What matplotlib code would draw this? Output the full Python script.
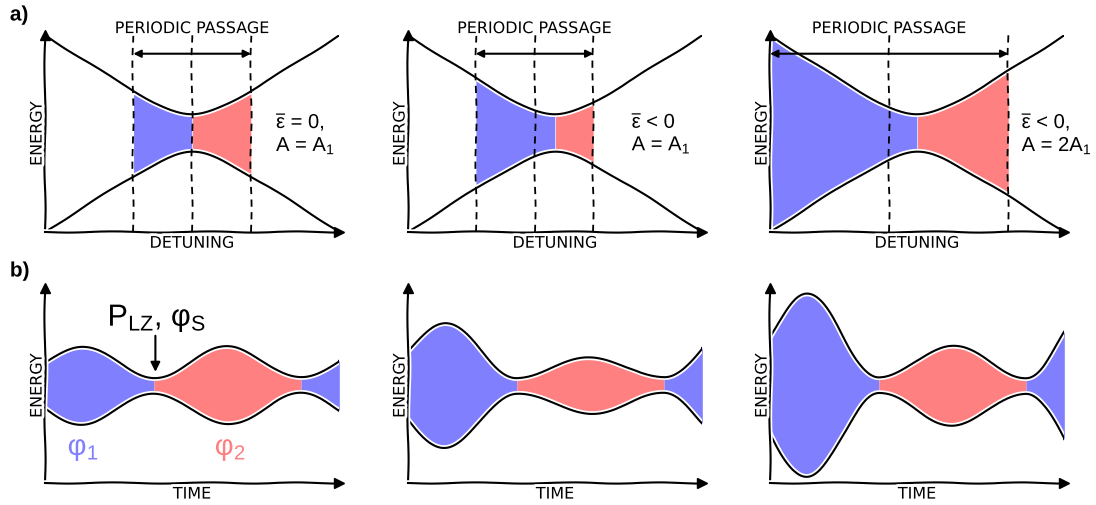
import numpy as np
import matplotlib
matplotlib.use('Agg')
import matplotlib.pyplot as plt

# row a) avoided crossing, one value per panel
eps_bar = [0.0, -0.14, -0.19]
amplitude = [0.40, 0.40, 0.81]
panel_text = [r'$\overline{\varepsilon}$ = 0,' + '\nA = A$_1$',
              r'$\overline{\varepsilon}$ < 0' + '\nA = A$_1$',
              r'$\overline{\varepsilon}$ < 0,' + '\nA = 2A$_1$']
text_x = [0.57, 0.52, 0.71]
slope = 0.98
gap_a = 0.19

# row b) energy vs time, lobes between level crossings
crossings = [-0.12, 0.37, 0.87, 1.36]
lobe_colors = ['blue', 'red', 'blue']
lobe_heights = [[0.40, 0.40, 0.40],
                [0.64, 0.29, 0.64],
                [0.94, 0.41, 0.94]]
gap_b = 0.08

BLUE = '#8080ff'
RED = '#ff8080'
fill_color = {'blue': BLUE, 'red': RED}

plt.xkcd(scale=0.6, length=100, randomness=2)
plt.rcParams['font.family'] = ['DejaVu Sans']
plt.rcParams['mathtext.fontset'] = 'custom'
plt.rcParams['mathtext.rm'] = 'Liberation Sans'
plt.rcParams['mathtext.it'] = 'Liberation Sans'
plt.rcParams['mathtext.bf'] = 'Liberation Sans:bold'

fig = plt.figure(figsize=(10.96, 5.05), dpi=100)
lefts = [0.0411, 0.3723, 0.7026]
width = 0.2685


def style_axes(ax, xlabel):
    for s in ['top', 'right']:
        ax.spines[s].set_visible(False)
    ax.set_xticks([])
    ax.set_yticks([])
    for mx, my, mk in [(1, 0, '>'), (0, 1, '^')]:
        ln, = ax.plot(mx, my, marker=mk, color='k', ms=7, ls='none',
                      transform=ax.transAxes, clip_on=False, path_effects=[],
                      zorder=5)
        ln.set_sketch_params(None)
    ax.text(0.5, -0.057, xlabel, transform=ax.transAxes, ha='center',
            va='center', fontsize=11.5)
    ax.text(-0.027, 0.5, 'ENERGY', transform=ax.transAxes, rotation=90,
            ha='center', va='center', fontsize=11.5)


def arrow(ax, start, end, style, scale):
    ann = ax.annotate('', xy=end, xytext=start,
                      arrowprops=dict(arrowstyle=style, color='k', lw=1.5,
                                      shrinkA=0, shrinkB=0,
                                      mutation_scale=scale))
    ann.arrow_patch.set_sketch_params(None)
    ann.arrow_patch.set_path_effects([])


# ---- row a ----
x = np.linspace(-1, 1, 400)
energy = np.sqrt((slope * x) ** 2 + gap_a ** 2)
for i in range(3):
    ax = fig.add_axes([lefts[i], 0.5406, width, 0.3901])
    ax.set_xlim(-1, 1)
    ax.set_ylim(-1, 1)
    lo = max(eps_bar[i] - amplitude[i], -1)
    hi = eps_bar[i] + amplitude[i]
    m = (x >= lo) & (x <= 0)
    ax.fill_between(x[m], -energy[m], energy[m], color=BLUE, lw=0, zorder=1)
    m = (x >= 0) & (x <= hi)
    ax.fill_between(x[m], -energy[m], energy[m], color=RED, lw=0, zorder=1,
                    path_effects=[])
    ax.plot(x, energy, 'k', lw=1.5, zorder=2)
    ax.plot(x, -energy, 'k', lw=1.5, zorder=2)
    for xv in [lo, eps_bar[i], hi]:
        if xv > -0.99:
            ax.plot([xv, xv], [-1, 1], 'k--', lw=1.3, dashes=(4, 3), zorder=3,
                    path_effects=[])
    arrow(ax, (hi, 0.81), (lo, 0.81), '<|-|>', 11)
    ax.text(eps_bar[i], 1.065, 'PERIODIC PASSAGE', ha='center', va='center',
            fontsize=11.5, clip_on=False)
    ax.text(text_x[i], 0.0, panel_text[i], ha='left', va='center',
            fontsize=14.5, fontfamily='Liberation Sans', linespacing=1.15)
    style_axes(ax, 'DETUNING')

# ---- row b ----
for i in range(3):
    ax = fig.add_axes([lefts[i], 0.0436, width, 0.3861])
    ax.set_xlim(0, 1)
    ax.set_ylim(-1, 1)
    t_all, h_all = [], []
    for k in range(3):
        t0, t1 = crossings[k], crossings[k + 1]
        t = np.linspace(max(t0, 0), min(t1, 1), 200)
        h = gap_b + (lobe_heights[i][k] - gap_b) * np.sin(np.pi * (t - t0) / (t1 - t0)) ** 2
        ax.fill_between(t, -h, h, color=fill_color[lobe_colors[k]], lw=0, zorder=1)
        t_all.append(t)
        h_all.append(h)
    t_all = np.concatenate(t_all)
    h_all = np.concatenate(h_all)
    ax.plot(t_all, h_all, 'k', lw=1.5, zorder=2)
    ax.plot(t_all, -h_all, 'k', lw=1.5, zorder=2)
    style_axes(ax, 'TIME')
    if i == 0:
        ax.text(0.38, 0.69, r'P$_{\mathrm{LZ}}$, φ$_{\mathrm{S}}$', ha='center',
                va='center', fontsize=22, fontfamily='Liberation Sans')
        arrow(ax, (0.375, 0.51), (0.375, 0.14), '-|>', 14)
        ax.text(0.13, -0.65, 'φ$_1$', color=BLUE, ha='center', va='center',
                fontsize=21, fontfamily='Liberation Sans')
        ax.text(0.63, -0.65, 'φ$_2$', color=RED, ha='center', va='center',
                fontsize=21, fontfamily='Liberation Sans')

fig.text(0.009, 1 - 15 / 505, 'a)', fontsize=15, fontweight='bold',
         fontfamily='Liberation Sans', va='center')
fig.text(0.009, 1 - 271 / 505, 'b)', fontsize=15, fontweight='bold',
         fontfamily='Liberation Sans', va='center')

fig.savefig('out.png', dpi=100)
